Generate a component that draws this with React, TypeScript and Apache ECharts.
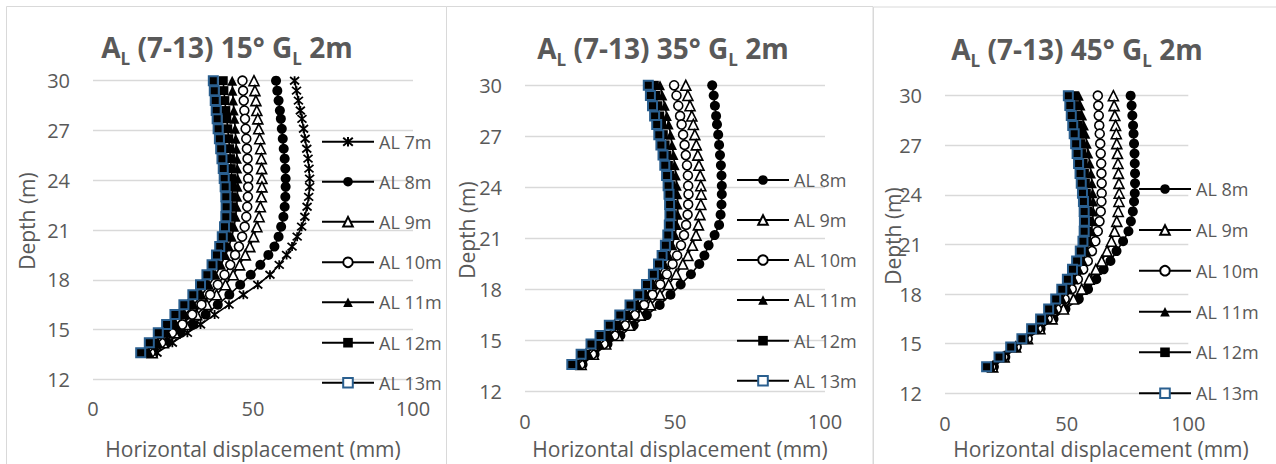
import React, { useEffect, useRef } from 'react';
import * as echarts from 'echarts';

const depth = [30.0, 29.4, 28.8, 28.2, 27.7, 27.1, 26.5, 25.9, 25.3, 24.7, 24.1, 23.6, 23.0, 22.4, 21.8, 21.2, 20.6, 20.0, 19.5, 18.9, 18.3, 17.7, 17.1, 16.5, 15.9, 15.3, 14.8, 14.2, 13.6];

const xTicks = [0, 50, 100];
const yTicks = [12, 15, 18, 21, 24, 27, 30];

const titles15 = ['A', 'L', ' (7-13) 15° G', 'L', ' 2m'];
const titles35 = ['A', 'L', ' (7-13) 35° G', 'L', ' 2m'];
const titles45 = ['A', 'L', ' (7-13) 45° G', 'L', ' 2m'];

// Panel 1 (15°)
const p1_al7 = [63.0, 63.6, 64.2, 64.8, 65.3, 65.8, 66.3, 66.8, 67.2, 67.5, 67.7, 67.7, 67.4, 66.9, 66.2, 65.2, 63.8, 62.2, 60.5, 58.2, 55.3, 51.5, 47.0, 42.5, 38.0, 33.6, 29.5, 24.8, 20.0];
const p1_al8 = [57.2, 57.6, 58.0, 58.4, 58.7, 59.0, 59.3, 59.6, 59.9, 60.1, 60.2, 60.2, 60.1, 59.9, 59.5, 58.8, 58.0, 56.7, 54.8, 52.3, 49.3, 46.0, 42.6, 39.0, 35.2, 31.3, 27.4, 23.2, 19.0];
const p1_al9 = [50.3, 50.6, 50.9, 51.2, 51.5, 51.8, 52.1, 52.4, 52.6, 52.7, 52.8, 52.8, 52.6, 52.3, 51.9, 51.2, 50.2, 49.0, 47.6, 45.8, 43.8, 41.4, 38.6, 35.6, 32.4, 29.0, 25.6, 22.0, 18.5];
const p1_al10 = [46.7, 46.9, 47.1, 47.3, 47.5, 47.7, 47.9, 48.1, 48.3, 48.4, 48.5, 48.5, 48.4, 48.2, 47.9, 47.4, 46.6, 45.6, 44.4, 42.9, 41.1, 39.0, 36.6, 33.9, 31.0, 27.9, 24.7, 21.3, 18.0];
const p1_al11 = [43.5, 43.6, 43.8, 44.0, 44.2, 44.4, 44.6, 44.8, 45.0, 45.1, 45.2, 45.2, 45.1, 44.9, 44.6, 44.1, 43.4, 42.5, 41.4, 40.0, 38.3, 36.3, 34.0, 31.5, 28.8, 26.0, 23.2, 20.3, 17.5];
const p1_al12 = [40.7, 40.9, 41.2, 41.5, 41.8, 42.1, 42.4, 42.7, 43.0, 43.2, 43.4, 43.5, 43.5, 43.4, 43.1, 42.6, 41.8, 40.8, 39.7, 38.4, 36.8, 34.9, 32.6, 30.0, 27.3, 24.6, 21.9, 19.2, 16.5];
const p1_al13 = [37.6, 37.9, 38.2, 38.5, 38.8, 39.1, 39.5, 39.9, 40.3, 40.7, 41.0, 41.3, 41.5, 41.6, 41.5, 41.1, 40.4, 39.6, 38.6, 37.2, 35.6, 33.6, 31.2, 28.4, 25.6, 23.0, 20.4, 17.6, 14.9];

// Panel 2 (35°)
const p2_al8 = [62.4, 62.9, 63.3, 63.7, 64.0, 64.4, 64.7, 65.0, 65.3, 65.5, 65.6, 65.6, 65.5, 65.2, 64.7, 63.2, 61.2, 59.8, 58.1, 55.3, 51.9, 48.5, 44.9, 40.6, 36.2, 31.8, 27.5, 23.2, 19.2];
const p2_al9 = [53.6, 54.3, 55.0, 55.6, 56.1, 56.6, 57.1, 57.6, 58.0, 58.4, 58.6, 58.7, 58.6, 58.3, 57.8, 57.0, 55.8, 54.3, 52.6, 50.4, 47.9, 45.0, 41.8, 38.4, 34.8, 30.9, 26.9, 22.8, 18.7];
const p2_al10 = [49.7, 50.5, 51.1, 51.7, 52.2, 52.7, 53.2, 53.6, 54.0, 54.3, 54.4, 54.5, 54.4, 54.2, 53.7, 53.0, 52.0, 50.7, 49.2, 47.3, 45.1, 42.5, 39.7, 36.6, 33.3, 29.8, 26.2, 22.4, 18.5];
const p2_al11 = [45.0, 45.8, 46.6, 47.3, 47.9, 48.5, 49.0, 49.5, 49.9, 50.3, 50.6, 50.8, 50.9, 50.9, 50.6, 50.0, 49.1, 47.9, 46.5, 44.8, 42.8, 40.4, 37.7, 34.8, 31.6, 28.3, 24.9, 21.3, 17.6];
const p2_al12 = [43.1, 43.7, 44.3, 44.9, 45.5, 46.1, 46.7, 47.3, 47.8, 48.3, 48.7, 49.0, 49.1, 49.1, 48.9, 48.4, 47.6, 46.5, 45.2, 43.6, 41.6, 39.2, 36.5, 33.5, 30.3, 27.0, 23.6, 20.1, 16.8];
const p2_al13 = [41.1, 41.8, 42.5, 43.2, 43.9, 44.6, 45.3, 46.0, 46.6, 47.2, 47.7, 48.0, 48.2, 48.3, 48.1, 47.6, 46.8, 45.7, 44.5, 42.8, 40.5, 37.9, 35.0, 31.6, 28.1, 25.0, 22.0, 18.7, 15.6];

// Panel 3 (45°)
const p3_al8 = [76.3, 76.7, 77.0, 77.3, 77.5, 77.7, 77.9, 78.0, 78.1, 78.1, 78.0, 77.7, 77.2, 76.4, 75.4, 73.2, 70.5, 68.0, 65.2, 62.2, 58.8, 55.0, 49.5, 44.6, 39.3, 34.0, 29.5, 24.8, 20.1];
const p3_al9 = [69.2, 69.5, 69.8, 70.1, 70.4, 70.6, 70.9, 71.1, 71.3, 71.5, 71.6, 71.5, 71.2, 70.6, 69.7, 68.4, 66.6, 64.4, 62.0, 59.3, 56.2, 52.8, 48.7, 44.0, 39.0, 33.9, 29.0, 24.3, 19.6];
const p3_al10 = [62.8, 63.0, 63.2, 63.4, 63.6, 63.8, 64.0, 64.2, 64.3, 64.4, 64.4, 64.3, 64.0, 63.5, 62.8, 61.8, 60.4, 58.7, 56.8, 54.6, 52.1, 49.2, 45.9, 42.2, 38.2, 33.9, 29.3, 24.1, 19.0];
const p3_al11 = [55.0, 55.7, 56.4, 57.1, 57.7, 58.3, 58.9, 59.5, 60.0, 60.4, 60.7, 60.9, 60.9, 60.7, 60.2, 59.4, 58.2, 56.7, 55.0, 53.0, 50.7, 48.1, 45.0, 41.5, 37.5, 33.2, 28.6, 23.8, 18.7];
const p3_al12 = [53.0, 53.6, 54.2, 54.8, 55.3, 55.8, 56.3, 56.8, 57.3, 57.7, 58.1, 58.4, 58.6, 58.6, 58.4, 57.8, 56.8, 55.4, 53.7, 51.7, 49.4, 46.8, 43.8, 40.4, 36.6, 32.5, 28.0, 23.3, 18.3];
const p3_al13 = [50.7, 51.3, 51.9, 52.5, 53.1, 53.7, 54.3, 54.9, 55.5, 56.0, 56.5, 56.9, 57.2, 57.3, 57.2, 56.7, 55.6, 54.1, 52.4, 50.3, 48.0, 45.5, 42.6, 39.3, 35.6, 31.6, 27.0, 22.2, 17.1];

const panel1 = [['AL 7m', p1_al7], ['AL 8m', p1_al8], ['AL 9m', p1_al9], ['AL 10m', p1_al10], ['AL 11m', p1_al11], ['AL 12m', p1_al12], ['AL 13m', p1_al13]] as [string, number[]][];
const panel2 = [['AL 8m', p2_al8], ['AL 9m', p2_al9], ['AL 10m', p2_al10], ['AL 11m', p2_al11], ['AL 12m', p2_al12], ['AL 13m', p2_al13]] as [string, number[]][];
const panel3 = [['AL 8m', p3_al8], ['AL 9m', p3_al9], ['AL 10m', p3_al10], ['AL 11m', p3_al11], ['AL 12m', p3_al12], ['AL 13m', p3_al13]] as [string, number[]][];

const FONT = '"Open Sans", "Noto Sans", sans-serif';
const GRAY = '#595959';
const BLUE = '#2a5f8f';

const markerStyles: Record<string, any> = {
  'AL 7m': { symbol: 'path://M0,0L10,10M10,0L0,10M5,-1L5,11', symbolSize: 9, itemStyle: { color: '#000', borderColor: '#000', borderWidth: 1.8 } },
  'AL 8m': { symbol: 'circle', symbolSize: 10, itemStyle: { color: '#000' } },
  'AL 9m': { symbol: 'triangle', symbolSize: 10, itemStyle: { color: '#fff', borderColor: '#000', borderWidth: 1.6 } },
  'AL 10m': { symbol: 'circle', symbolSize: 9, itemStyle: { color: '#fff', borderColor: '#000', borderWidth: 1.6 } },
  'AL 11m': { symbol: 'triangle', symbolSize: 10, itemStyle: { color: '#000' } },
  'AL 12m': { symbol: 'rect', symbolSize: 9, itemStyle: { color: '#000' } },
  'AL 13m': { symbol: 'rect', symbolSize: 9, itemStyle: { color: '#000', borderColor: BLUE, borderWidth: 2 } },
};

const panels = [
  { data: panel1, grid: { left: 93, top: 80.7, width: 320, height: 298.6 }, title: titles15, titleX: 227, titleY: 47, xTitleX: 253, yTitleX: 27, yTitleY: 221, legendX: 321, legendY: [141.7, 181.7, 221.7, 262.3, 302.3, 342.7, 382.7], labelMargin: 19 },
  { data: panel2, grid: { left: 525, top: 85.3, width: 300, height: 306.4 }, title: titles35, titleX: 663, titleY: 48, xTitleX: 680, yTitleX: 467, yTitleY: 230, legendX: 736, legendY: [180, 220, 260, 300, 340.7, 380.7], labelMargin: 20 },
  { data: panel3, grid: { left: 945, top: 95.7, width: 243.3, height: 297.6 }, title: titles45, titleX: 1077, titleY: 49, xTitleX: 1101, yTitleX: 893, yTitleY: 236, legendX: 1138, legendY: [189, 230, 270.7, 311.7, 352.3, 393.3], labelMargin: 20 },
];

function buildOption() {
  const grids: any[] = [];
  const xAxes: any[] = [];
  const yAxes: any[] = [];
  const series: any[] = [];
  const legends: any[] = [];
  const graphics: any[] = [];

  graphics.push({ type: 'rect', shape: { x: 6.5, y: 6.5, width: 440, height: 480 }, style: { fill: 'none', stroke: '#d9d9d9', lineWidth: 1 }, z: -1 });
  graphics.push({ type: 'rect', shape: { x: 446.5, y: 6.5, width: 426.5, height: 480 }, style: { fill: '#fff', stroke: '#d9d9d9', lineWidth: 1 }, z: -1 });
  graphics.push({ type: 'rect', shape: { x: 873.5, y: 7, width: 420, height: 480 }, style: { fill: '#fff', stroke: '#d9d9d9', lineWidth: 1 }, z: -1 });

  panels.forEach((p, i) => {
    grids.push({ ...p.grid, containLabel: false });
    xAxes.push({
      type: 'value', gridIndex: i, min: xTicks[0], max: xTicks[xTicks.length - 1], interval: 50,
      axisLine: { show: false }, axisTick: { show: false }, splitLine: { show: false },
      axisLabel: { color: GRAY, fontSize: 20, fontFamily: FONT, margin: p.labelMargin, lineHeight: 20 },
    });
    yAxes.push({
      type: 'value', gridIndex: i, min: yTicks[0], max: yTicks[yTicks.length - 1], interval: 3,
      axisLine: { show: false }, axisTick: { show: false },
      splitLine: { show: true, lineStyle: { color: '#d9d9d9', width: 1.3 } },
      axisLabel: { color: GRAY, fontSize: 20, fontFamily: FONT, margin: 23 },
    });
    p.data.forEach(([name, vals], j) => {
      const ms = markerStyles[name];
      series.push({
        type: 'line', name, xAxisIndex: i, yAxisIndex: i,
        data: vals.map((v, k) => [v, depth[k]]),
        symbol: ms.symbol, symbolSize: ms.symbolSize, itemStyle: ms.itemStyle,
        showAllSymbol: true,
        lineStyle: { color: '#000', width: 1.6 },
        z: 2 + j,
      });
      legends.push({
        data: [name === 'AL 13m' ? { name, itemStyle: { color: '#fff' } } : { name }],
        left: p.legendX, top: p.legendY[j] - 10,
        orient: 'vertical', padding: 0, itemWidth: 52, itemHeight: 12, selectedMode: false,
        textStyle: { color: GRAY, fontSize: 18, fontFamily: FONT, lineHeight: 20 },
      });
    });
    const [a, s1, b, s2, c] = p.title;
    graphics.push({
      type: 'text', x: p.titleX, y: p.titleY,
      style: {
        text: `{a|${a}}{s|${s1}}{a|${b}}{s|${s2}}{a|${c}}`,
        align: 'center', verticalAlign: 'middle',
        rich: {
          a: { fontSize: 28, fontWeight: 'bold', fontFamily: FONT, fill: GRAY, lineHeight: 40 },
          s: { fontSize: 17, fontWeight: 'bold', fontFamily: FONT, fill: GRAY, lineHeight: 17, verticalAlign: 'bottom' },
        },
      },
    });
    graphics.push({
      type: 'text', x: p.xTitleX, y: 449,
      style: { text: 'Horizontal displacement (mm)', align: 'center', verticalAlign: 'middle', fontSize: 21, fontFamily: FONT, fill: GRAY, lineHeight: 21 },
    });
    graphics.push({
      type: 'text', x: p.yTitleX, y: p.yTitleY, rotation: Math.PI / 2,
      style: { text: 'Depth (m)', align: 'center', verticalAlign: 'middle', fontSize: 21, fontFamily: FONT, fill: GRAY },
    });
  });

  return {
    animation: false,
    backgroundColor: '#fff',
    grid: grids,
    xAxis: xAxes,
    yAxis: yAxes,
    series,
    legend: legends,
    graphic: graphics,
  };
}

export default function App() {
  const ref = useRef<HTMLDivElement>(null);
  useEffect(() => {
    if (!ref.current) return;
    const chart = echarts.init(ref.current, undefined, { renderer: 'svg' });
    chart.setOption(buildOption() as any);
    return () => chart.dispose();
  }, []);
  return <div ref={ref} style={{ position: 'absolute', left: 0, top: 0, width: 1276, height: 464, background: '#fff' }} />;
}
